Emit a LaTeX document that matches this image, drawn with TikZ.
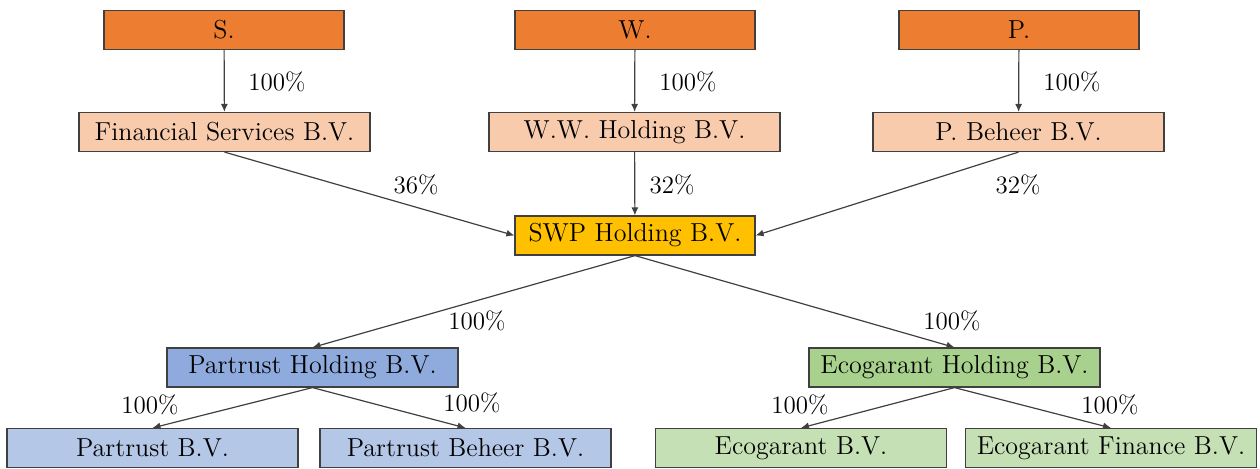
\documentclass[tikz,border=0pt]{standalone}
\usepackage{tikz}
\usetikzlibrary{arrows.meta}
\definecolor{edge}{HTML}{404040}
\definecolor{owner}{HTML}{ED7D31}
\definecolor{ownerl}{HTML}{F8CBAD}
\definecolor{hold}{HTML}{FFC000}
\definecolor{blue}{HTML}{8FAADC}
\definecolor{bluel}{HTML}{B4C7E7}
\definecolor{green}{HTML}{A9D18E}
\definecolor{greenl}{HTML}{C5E0B4}
\tikzset{
  box/.style={draw=edge, line width=0.6pt, rectangle, minimum height=19.5pt, inner sep=1pt, font=\fontsize{13}{15}\selectfont},
  wide/.style={box, minimum width=145.5pt},
  narrow/.style={box, minimum width=120pt},
  own/.style={draw=edge, line width=0.6pt, -{Latex[length=4pt,width=3.5pt]}},
  pct/.style={font=\fontsize{12.5}{14}\selectfont, inner sep=0pt},
}

\begin{document}
\begin{tikzpicture}[x=0.5pt,y=0.5pt]
  \useasboundingbox (0,0) rectangle (1260,468);

  % owners
  \node[narrow,fill=owner] (s) at (224,438) {S.};
  \node[narrow,fill=owner] (w) at (635,438) {W.};
  \node[narrow,fill=owner] (p) at (1019,438) {P.};

  \node[wide,fill=ownerl] (fs) at (224.5,336) {Financial Services B.V.};
  \node[wide,fill=ownerl] (ww) at (634.5,336) {W.W. Holding B.V.};
  \node[wide,fill=ownerl] (pb) at (1018.5,336) {P. Beheer B.V.};

  \node[narrow,fill=hold] (swp) at (635,232.5) {SWP Holding B.V.};

  % subsidiaries
  \node[wide,fill=blue] (ph) at (312.5,100.5) {Partrust Holding B.V.};
  \node[wide,fill=green] (eh) at (954.5,100.5) {Ecogarant Holding B.V.};

  \node[wide,fill=bluel] (pbv) at (152.5,20) {Partrust B.V.};
  \node[wide,fill=bluel] (pbh) at (465.5,20) {Partrust Beheer B.V.};
  \node[wide,fill=greenl] (ebv) at (801,20) {Ecogarant B.V.};
  \node[wide,fill=greenl] (efi) at (1111,20) {Ecogarant Finance B.V.};

  \draw[own] (s) -- (fs);
  \draw[own] (w) -- (ww);
  \draw[own] (p) -- (pb);
  \draw[own] (fs.south) -- (swp.west);
  \draw[own] (ww) -- (swp);
  \draw[own] (pb.south) -- (swp.east);
  \draw[own] (swp.south) -- (ph.north);
  \draw[own] (swp.south) -- (eh.north);
  \draw[own] (ph.south) -- (pbv.north);
  \draw[own] (ph.south) -- (pbh.north);
  \draw[own] (eh.south) -- (ebv.north);
  \draw[own] (eh.south) -- (efi.north);

  \node[pct] (ls) at (277,386) {100\%};
  \node[pct] (lw) at (688,386) {100\%};
  \node[pct] (lp) at (1072,386) {100\%};
  \node[pct] (lfs) at (416,283) {36\%};
  \node[pct] (lww) at (672,283) {32\%};
  \node[pct] (lpb) at (1018,283) {32\%};
  \node[pct] (lph) at (477,147) {100\%};
  \node[pct] (leh) at (952,147) {100\%};
  \node[pct] (lpbv) at (150,63) {100\%};
  \node[pct] (lpbh) at (472,65) {100\%};
  \node[pct] (lebv) at (800,63) {100\%};
  \node[pct] (lefi) at (1110,63) {100\%};
\end{tikzpicture}
\end{document}
